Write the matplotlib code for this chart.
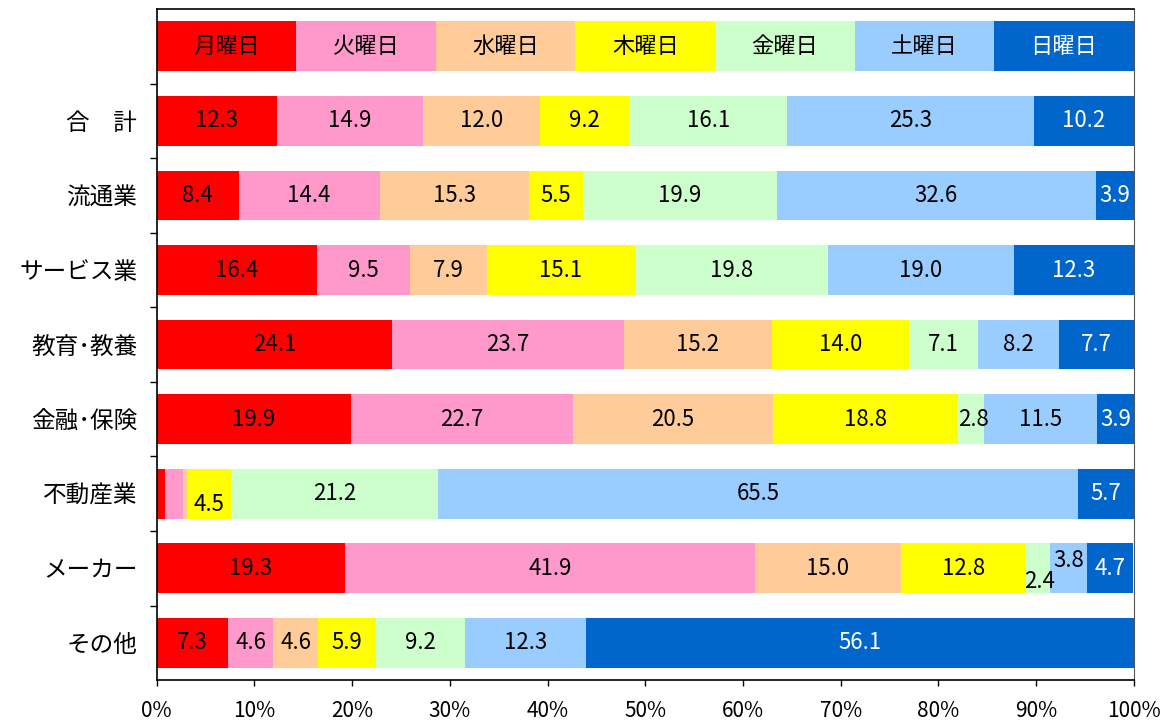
import matplotlib
matplotlib.use('Agg')
import matplotlib.pyplot as plt
import numpy as np

plt.rcParams['font.family'] = ['Noto Sans CJK JP', 'DejaVu Sans']

# data
days = ['月曜日', '火曜日', '水曜日', '木曜日', '金曜日', '土曜日', '日曜日']
colors = ['#FF0000', '#FF99CC', '#FFCC99', '#FFFF00', '#CCFFCC', '#99CCFF', '#0066CC']
text_colors = ['black'] * 6 + ['white']

categories = ['合　計', '流通業', 'サービス業', '教育･教養', '金融･保険', '不動産業', 'メーカー', 'その他']
values = np.array([
    [12.3, 14.9, 12.0, 9.2, 16.1, 25.3, 10.2],
    [8.4, 14.4, 15.3, 5.5, 19.9, 32.6, 3.9],
    [16.4, 9.5, 7.9, 15.1, 19.8, 19.0, 12.3],
    [24.1, 23.7, 15.2, 14.0, 7.1, 8.2, 7.7],
    [19.9, 22.7, 20.5, 18.8, 2.8, 11.5, 3.9],
    [0.8, 1.9, 0.4, 4.5, 21.2, 65.5, 5.7],
    [19.3, 41.9, 15.0, 12.8, 2.4, 3.8, 4.7],
    [7.3, 4.6, 4.6, 5.9, 9.2, 12.3, 56.1],
])
# segments left without a label in the original
hidden = {(5, 0), (5, 1), (5, 2)}
# small nudges for crowded labels (x in %, y in rows)
nudge = {(4, 4): (0.3, 0.0), (5, 3): (0.0, 0.15), (6, 4): (0.2, 0.18),
         (6, 5): (0.0, -0.1)}

fig = plt.figure(figsize=(11.7, 7.22), dpi=100)
ax = fig.add_axes([0.134, 0.058, 0.835, 0.9295])

h = 0.667
# legend row at top
leg_w = 100.0 / len(days)
for j, d in enumerate(days):
    ax.barh(0, leg_w, left=j * leg_w, height=h, color=colors[j], edgecolor='none')
    ax.text(j * leg_w + leg_w / 2, 0, d, ha='center', va='center',
            fontsize=16, color=text_colors[j])

ypos = np.arange(1, len(categories) + 1)
left = np.zeros(len(categories))
for j in range(len(days)):
    ax.barh(ypos, values[:, j], left=left, height=h, color=colors[j],
            edgecolor='none')
    for i, v in enumerate(values[:, j]):
        if (i, j) in hidden:
            continue
        dx, dy = nudge.get((i, j), (0, 0))
        ax.text(left[i] + v / 2 + dx, ypos[i] + dy, f'{v:.1f}', ha='center',
                va='center', fontsize=16, color=text_colors[j])
    left += values[:, j]

ax.set_xlim(0, 100)
ax.set_ylim(len(categories) + 0.5, -0.5)
ax.set_xticks(np.arange(0, 101, 10))
ax.set_xticklabels([f'{x}%' for x in range(0, 101, 10)], fontsize=15)
ax.set_yticks(ypos)
ax.set_yticklabels(categories, fontsize=17)
ax.tick_params(axis='y', length=0, pad=14)
ax.set_yticks(np.arange(0.5, len(categories) + 0.5, 1), minor=True)
ax.tick_params(axis='y', which='minor', length=5, width=1)
ax.tick_params(axis='x', length=4, width=1, pad=10)
for s in ['left', 'bottom', 'top']:
    ax.spines[s].set_linewidth(1.2)
ax.spines['right'].set_color('#555555')

fig.savefig('out.png', dpi=100)
